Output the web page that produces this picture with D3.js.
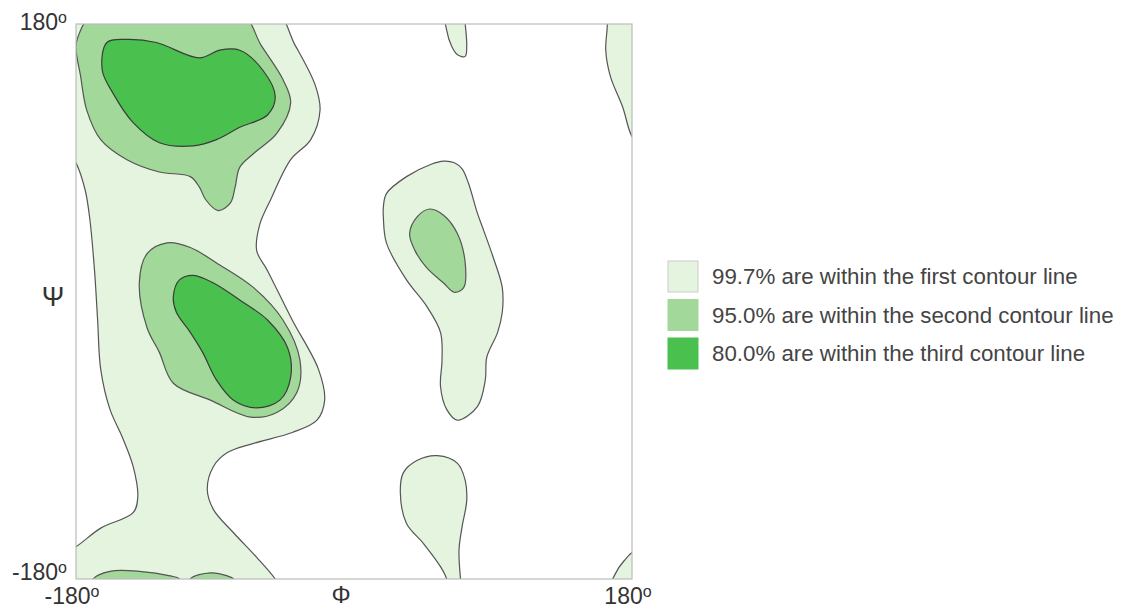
<!DOCTYPE html>
<html>
<head>
<meta charset="utf-8">
<script src="https://cdn.jsdelivr.net/npm/d3@7"></script>
<style>
body { margin: 0; background: #fff; }
text { font-family: "Liberation Sans", Arial, sans-serif; fill: #333; }
</style>
</head>
<body>
<svg width="1132" height="609"></svg>
<script>
// contour outlines, [phi, psi] in degrees (points past +-180 wrap off the plot)
var outer = [
  [[-54,192],[-38,166],[-25,140],[-22,124],[-28,105],[-41,92],[-54,66],[-61,50],[-63,33],[-56,20],
   [-40,-12],[-23,-44],[-19,-64],[-24,-77],[-40,-85],[-65,-92],[-82,-98],[-91,-107],[-95,-122],
   [-91,-135],[-78,-150],[-63,-166],[-51,-180],[-45,-190],[-190,-194],[-190,-164],[-180,-159],
   [-164,-147],[-143,-137],[-140,-127],[-143,-107],[-150,-88],[-158,-70],[-164,-44],[-166,-12],
   [-168,20],[-171,53],[-174,72],[-180,90],[-190,105],[-190,192]],
  [[19,61],[21,70],[34,81],[50,89],[58,91],[65,90],[70,86],[74,77],[80,57],[84,46],[90,29],[96,9],
   [96,-7],[93,-20],[86,-36],[85,-51],[80,-68],[67,-77],[60,-70],[56,-55],[57,-38],[56,-20],[47,-3],
   [34,14],[21,38],[19,55]],
  [[59,189],[60,176],[63,166],[67,160],[72,159],[73,166],[72,180],[71,189]],
  [[61,-187],[60,-180],[56,-172],[45,-157],[34,-144],[30,-124],[32,-111],[41,-103],[54,-100],[67,-105],
   [72,-116],[73,-129],[70,-146],[68,-161],[69,-180],[70,-187]],
  [[163,189],[164,180],[163,163],[166,146],[174,126],[180,107],[188,98],[188,189]],
  [[166,-187],[169,-177],[175,-168],[182,-162],[188,-168],[188,-187]]
];
var middle = [
  [[-74,188],[-60,166],[-46,144],[-41,129],[-50,109],[-65,96],[-74,87],[-77,74],[-80,64],[-88,59],
   [-96,66],[-100,74],[-106,81],[-126,84],[-147,92],[-164,105],[-173,124],[-177,146],[-180,166],
   [-177,176],[-174,181],[-158,188]],
  [[-139,12],[-134,31],[-121,38],[-106,35],[-89,25],[-65,9],[-46,-12],[-35,-38],[-37,-59],[-50,-72],
   [-67,-75],[-93,-64],[-117,-53],[-126,-33],[-134,-17]],
  [[36,44],[41,55],[49,60],[58,56],[67,44],[72,25],[71,9],[65,6],[58,12],[47,22],[39.5,33]],
  [[-170,-187],[-169,-180],[-158,-175],[-139,-175],[-119,-178],[-113,-180],[-111,-187]],
  [[-107,-187],[-106,-180],[-93,-176],[-82,-178],[-78,-180],[-76,-187]]
];
var inner = [
  [[-163,150],[-160,168],[-147,170],[-128,168],[-100,158],[-87,163],[-74,163],[-59,150],[-51,133],
   [-56,121],[-74,113],[-89,105],[-104,101],[-126,103],[-143,116],[-156,135]],
  [[-117,3],[-113,14],[-104,17],[-91,12],[-74,1],[-56,-12],[-43,-30],[-41,-49],[-48,-64],[-63,-69],
   [-78,-64],[-89,-51],[-98,-33],[-106,-20],[-115,-7]]
];
var levels = ["99.7%", "95.0%", "80.0%"];
var levelNames = ["first", "second", "third"];
var colors = ["#e4f4df", "#a2d99a", "#4ac14f"];
var ticks = [-180, 180];

var svg = d3.select("svg");
var x = d3.scaleLinear().domain([-180, 180]).range([76, 632]),
    y = d3.scaleLinear().domain([-180, 180]).range([579, 24]);

var line = d3.line()
    .x(d => x(d[0]))
    .y(d => y(d[1]))
    .curve(d3.curveCatmullRomClosed.alpha(0.5));

svg.append("clipPath").attr("id", "clip")
  .append("rect")
    .attr("x", x(-180)).attr("y", y(180))
    .attr("width", x(180) - x(-180)).attr("height", y(-180) - y(180));

var plot = svg.append("g").attr("clip-path", "url(#clip)");

[outer, middle, inner].forEach(function(set, i){
  plot.selectAll(null)
    .data(set)
    .enter().append("path")
      .attr("d", line)
      .attr("fill", colors[i])
      .attr("stroke", i == 2 ? "#3c3c3c" : "#555")
      .attr("stroke-width", 1.2);
});

svg.append("rect")
    .attr("x", x(-180)).attr("y", y(180))
    .attr("width", x(180) - x(-180)).attr("height", y(-180) - y(180))
    .attr("fill", "none").attr("stroke", "#bbb").attr("stroke-width", 1.2);

function deg(sel, v){
  sel.append("tspan").text(v);
  sel.append("tspan").attr("font-size", 16).attr("dy", -7).text("o");
}

// psi ticks
svg.selectAll(".ytick").data(ticks).enter().append("text")
    .attr("class", "ytick")
    .attr("x", 67)
    .attr("y", d => d > 0 ? y(d) + 6 : y(d) + 1)
    .attr("text-anchor", "end")
    .attr("font-size", 23)
    .each(function(d){ deg(d3.select(this), d); });

// phi ticks
svg.selectAll(".xtick").data(ticks).enter().append("text")
    .attr("class", "xtick")
    .attr("x", d => x(d) - 4)
    .attr("y", 604)
    .attr("text-anchor", "middle")
    .attr("font-size", 23)
    .each(function(d){ deg(d3.select(this), d); });

svg.append("text").attr("x", 341).attr("y", 603).attr("text-anchor", "middle")
    .attr("font-size", 24).text("Φ");
svg.append("text").attr("x", 53).attr("y", 306).attr("text-anchor", "middle")
    .attr("font-size", 27).text("Ψ");

var legend = svg.selectAll(".leg").data(levels).enter().append("g")
    .attr("class", "leg")
    .attr("transform", (d, i) => `translate(668,${261 + i * 38.5})`);
legend.append("rect")
    .attr("width", 30).attr("height", 31)
    .attr("fill", (d, i) => colors[i])
    .attr("stroke", (d, i) => i == 0 ? "#ccc" : colors[i]);
legend.append("text")
    .attr("x", 44).attr("y", 23)
    .attr("font-size", 22.3)
    .style("fill", "#444")
    .text((d, i) => `${d} are within the ${levelNames[i]} contour line`);
</script>
</body>
</html>
